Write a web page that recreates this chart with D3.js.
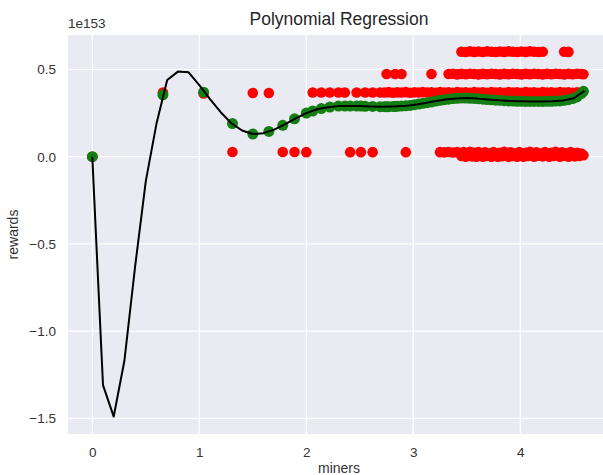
<!DOCTYPE html>
<html>
<head>
<meta charset="utf-8">
<script src="https://cdn.jsdelivr.net/npm/d3@7"></script>
<style>
  html, body { margin: 0; padding: 0; background: #ffffff; }
  svg { display: block; font-family: "Liberation Sans", Arial, sans-serif; }
</style>
</head>
<body>
<div id="chart"></div>
<script>
// Axis ticks (rewards are in units of 1e153)
const xTicks = [0, 1, 2, 3, 4];
const xTickLabels = ["0", "1", "2", "3", "4"];
const yTicks = [0.5, 0.0, -0.5, -1.0, -1.5];
const yTickLabels = ["0.5", "0.0", "\u22120.5", "\u22121.0", "\u22121.5"];

// Fitted polynomial evaluated on a 0.1-step grid of miners
const fitX = [0.0, 0.1, 0.2, 0.3, 0.4, 0.5, 0.6, 0.7, 0.8, 0.9,
              1.0, 1.1, 1.2, 1.3, 1.4, 1.5, 1.6, 1.7, 1.8, 1.9,
              2.0, 2.1, 2.2, 2.3, 2.4, 2.5, 2.6, 2.7, 2.8, 2.9,
              3.0, 3.1, 3.2, 3.3, 3.4, 3.5, 3.6, 3.7, 3.8, 3.9,
              4.0, 4.1, 4.2, 4.3, 4.4, 4.5, 4.6];
const fitY = [0.000, -1.310, -1.490, -1.170, -0.630, -0.140, 0.190, 0.440, 0.488, 0.484,
              0.410, 0.330, 0.255, 0.192, 0.150, 0.130, 0.135, 0.155, 0.185, 0.220,
              0.250, 0.272, 0.284, 0.290, 0.290, 0.290, 0.288, 0.287, 0.288, 0.290,
              0.297, 0.307, 0.318, 0.328, 0.334, 0.336, 0.333, 0.328, 0.323, 0.320,
              0.318, 0.317, 0.317, 0.318, 0.322, 0.335, 0.377];

// Distinct miner values and the model's predicted reward at each
const minerValues = [0.00, 0.66, 1.04, 1.31, 1.50, 1.65, 1.78, 1.89, 2.00, 2.06,
                     2.14, 2.22, 2.30, 2.36, 2.41, 2.47, 2.51, 2.55, 2.62, 2.69,
                     2.73, 2.75, 2.77, 2.81, 2.83, 2.85, 2.89, 2.93, 2.97, 3.01,
                     3.05, 3.09, 3.13, 3.17, 3.21, 3.25, 3.29, 3.33, 3.37, 3.41,
                     3.45, 3.49, 3.53, 3.57, 3.61, 3.65, 3.69, 3.73, 3.77, 3.81,
                     3.85, 3.89, 3.93, 3.97, 4.01, 4.05, 4.09, 4.13, 4.17, 4.21,
                     4.25, 4.29, 4.33, 4.37, 4.41, 4.45, 4.49, 4.53, 4.57, 4.59];
const predictedRewards = [0.000, 0.355, 0.370, 0.190, 0.130, 0.145, 0.180, 0.217, 0.250, 0.262,
                          0.276, 0.285, 0.290, 0.290, 0.290, 0.290, 0.290, 0.289, 0.288, 0.287,
                          0.287, 0.287, 0.287, 0.288, 0.288, 0.289, 0.290, 0.292, 0.294, 0.298,
                          0.302, 0.306, 0.310, 0.314, 0.319, 0.323, 0.327, 0.330, 0.333, 0.335,
                          0.336, 0.336, 0.335, 0.334, 0.332, 0.330, 0.328, 0.326, 0.324, 0.323,
                          0.321, 0.320, 0.319, 0.318, 0.318, 0.317, 0.317, 0.317, 0.317, 0.317,
                          0.318, 0.318, 0.319, 0.320, 0.323, 0.327, 0.333, 0.343, 0.362, 0.375];

// Observed rewards: [miners, reward]
const observed = [
  [0.00, 0.000], [0.66, 0.368], [1.04, 0.362], [1.31, 0.027], [1.50, 0.365],
  [1.65, 0.365], [1.78, 0.027], [1.89, 0.027], [2.00, 0.026],
  [2.06, 0.368], [2.14, 0.368], [2.22, 0.368], [2.30, 0.368], [2.36, 0.368],
  [2.47, 0.368], [2.55, 0.368], [2.62, 0.368], [2.69, 0.368],
  [2.41, 0.026], [2.51, 0.026], [2.62, 0.026], [2.93, 0.026],
  [2.75, 0.474], [2.83, 0.474], [2.89, 0.474], [3.17, 0.474],
  // band near 0.37
  [2.73, 0.368], [2.77, 0.370], [2.81, 0.367], [2.85, 0.369], [2.89, 0.368],
  [2.93, 0.370], [2.97, 0.367], [3.01, 0.369], [3.05, 0.368], [3.09, 0.370],
  [3.13, 0.368], [3.17, 0.369], [3.21, 0.367], [3.25, 0.370], [3.29, 0.368],
  [3.33, 0.369], [3.37, 0.367], [3.41, 0.370], [3.45, 0.368], [3.49, 0.369],
  [3.53, 0.367], [3.57, 0.370], [3.61, 0.368], [3.65, 0.369], [3.69, 0.367],
  [3.73, 0.370], [3.77, 0.368], [3.81, 0.369], [3.85, 0.367], [3.89, 0.370],
  [3.93, 0.368], [3.97, 0.369], [4.01, 0.367], [4.05, 0.370], [4.09, 0.368],
  [4.13, 0.369], [4.17, 0.367], [4.21, 0.370], [4.25, 0.368], [4.29, 0.369],
  [4.33, 0.367], [4.37, 0.370], [4.41, 0.368], [4.45, 0.369], [4.49, 0.367],
  [4.53, 0.369],
  // band near 0.47
  [3.33, 0.474], [3.37, 0.476], [3.41, 0.472], [3.45, 0.475], [3.49, 0.473],
  [3.53, 0.476], [3.57, 0.474], [3.61, 0.472], [3.65, 0.475], [3.69, 0.473],
  [3.73, 0.476], [3.77, 0.474], [3.81, 0.472], [3.85, 0.475], [3.89, 0.473],
  [3.93, 0.476], [3.97, 0.474], [4.01, 0.472], [4.05, 0.475], [4.09, 0.473],
  [4.13, 0.476], [4.17, 0.474], [4.21, 0.472], [4.25, 0.475], [4.29, 0.473],
  [4.33, 0.476], [4.37, 0.474], [4.41, 0.472], [4.45, 0.475], [4.49, 0.473],
  [4.53, 0.476], [4.57, 0.474], [4.59, 0.473],
  // band near 0.60
  [3.45, 0.602], [3.49, 0.600], [3.53, 0.604], [3.57, 0.601], [3.61, 0.603],
  [3.65, 0.600], [3.69, 0.604], [3.73, 0.602], [3.77, 0.600], [3.81, 0.603],
  [3.85, 0.601], [3.89, 0.604], [3.93, 0.602], [3.97, 0.600], [4.01, 0.603],
  [4.05, 0.601], [4.09, 0.604], [4.13, 0.602], [4.17, 0.600], [4.21, 0.602],
  [4.41, 0.602], [4.45, 0.601],
  // band near zero
  [3.25, 0.026], [3.29, 0.025], [3.33, 0.027], [3.37, 0.024], [3.41, 0.026],
  [3.45, 0.004], [3.47, 0.027], [3.49, 0.000], [3.51, 0.018], [3.53, 0.028],
  [3.55, 0.002], [3.57, 0.022], [3.59, 0.000], [3.61, 0.027], [3.63, 0.010],
  [3.65, 0.000], [3.67, 0.025], [3.69, 0.005], [3.71, 0.018], [3.73, 0.000],
  [3.75, 0.027], [3.77, 0.008], [3.79, 0.000], [3.81, 0.022], [3.83, 0.003],
  [3.85, 0.028], [3.87, 0.012], [3.89, 0.000], [3.91, 0.025], [3.93, 0.004],
  [3.95, 0.018], [3.97, 0.000], [3.99, 0.027], [4.01, 0.010], [4.03, 0.000],
  [4.05, 0.022], [4.07, 0.004], [4.09, 0.028], [4.11, 0.012], [4.13, 0.000],
  [4.15, 0.025], [4.17, 0.006], [4.19, 0.018], [4.21, 0.002], [4.23, 0.027],
  [4.25, 0.010], [4.27, 0.000], [4.29, 0.022], [4.31, 0.004], [4.33, 0.028],
  [4.35, 0.012], [4.37, 0.000], [4.39, 0.025], [4.41, 0.006], [4.43, 0.018],
  [4.45, 0.000], [4.47, 0.027], [4.49, 0.010], [4.51, 0.002], [4.53, 0.022],
  [4.55, 0.004], [4.57, 0.018], [4.59, 0.008]
];

const W = 603, H = 475;
const plot = { left: 68, right: 610, top: 35, bottom: 434 };

const x = d3.scaleLinear().domain([-0.2271, 4.8383]).range([plot.left, plot.right]);
const y = d3.scaleLinear().domain([-1.590, 0.6978]).range([plot.bottom, plot.top]);

const svg = d3.select("#chart").append("svg")
  .attr("width", W).attr("height", H)
  .attr("viewBox", `0 0 ${W} ${H}`);

svg.append("rect").attr("width", W).attr("height", H).attr("fill", "#ffffff");

svg.append("defs").append("clipPath").attr("id", "plot-clip")
  .append("rect")
  .attr("x", plot.left).attr("y", plot.top)
  .attr("width", plot.right - plot.left).attr("height", plot.bottom - plot.top);

// Axes background
svg.append("rect")
  .attr("x", plot.left).attr("y", plot.top)
  .attr("width", plot.right - plot.left).attr("height", plot.bottom - plot.top)
  .attr("fill", "#eaeaf2");

// Grid lines
const grid = svg.append("g").attr("clip-path", "url(#plot-clip)");
grid.selectAll("line.vx").data(xTicks).join("line")
  .attr("x1", d => x(d)).attr("x2", d => x(d))
  .attr("y1", plot.top).attr("y2", plot.bottom)
  .attr("stroke", "#ffffff").attr("stroke-width", 1.2);
grid.selectAll("line.hy").data(yTicks).join("line")
  .attr("y1", d => y(d)).attr("y2", d => y(d))
  .attr("x1", plot.left).attr("x2", plot.right)
  .attr("stroke", "#ffffff").attr("stroke-width", 1.2);

// Tick labels via d3 axes (no tick marks, no domain line)
const xAxis = d3.axisBottom(x).tickValues(xTicks)
  .tickFormat((d, i) => xTickLabels[i]).tickSize(0).tickPadding(13);
const gx = svg.append("g").attr("transform", `translate(0,${plot.bottom})`).call(xAxis);
gx.select(".domain").remove();
gx.selectAll("text").attr("font-size", 13.5).attr("fill", "#333333")
  .attr("font-family", "Liberation Sans, Arial, sans-serif");

const yAxis = d3.axisLeft(y).tickValues(yTicks)
  .tickFormat((d, i) => yTickLabels[i]).tickSize(0).tickPadding(12);
const gy = svg.append("g").attr("transform", `translate(${plot.left},0)`).call(yAxis);
gy.select(".domain").remove();
gy.selectAll("text").attr("font-size", 13.5).attr("fill", "#333333")
  .attr("font-family", "Liberation Sans, Arial, sans-serif");

// Marks
const marks = svg.append("g").attr("clip-path", "url(#plot-clip)");

marks.append("g").selectAll("circle").data(observed).join("circle")
  .attr("cx", d => x(d[0])).attr("cy", d => y(d[1])).attr("r", 5.3)
  .attr("fill", "#ff0000");

marks.append("g").selectAll("circle").data(minerValues).join("circle")
  .attr("cx", d => x(d)).attr("cy", (d, i) => y(predictedRewards[i])).attr("r", 5.5)
  .attr("fill", "#137f13");

const fitLine = d3.line().x(d => x(d[0])).y(d => y(d[1]));
marks.append("path")
  .datum(fitX.map((v, i) => [v, fitY[i]]))
  .attr("d", fitLine)
  .attr("fill", "none").attr("stroke", "#000000").attr("stroke-width", 2)
  .attr("stroke-linejoin", "round");

// Titles and labels
svg.append("text").attr("x", (plot.left + plot.right) / 2).attr("y", 25)
  .attr("text-anchor", "middle").attr("font-size", 17.5).attr("fill", "#262626")
  .text("Polynomial Regression");

svg.append("text").attr("x", plot.left).attr("y", 28)
  .attr("font-size", 13.5).attr("fill", "#333333")
  .text("1e153");

svg.append("text").attr("x", (plot.left + plot.right) / 2).attr("y", 473)
  .attr("text-anchor", "middle").attr("font-size", 14).attr("fill", "#333333")
  .text("miners");

svg.append("text")
  .attr("transform", `translate(18,${(plot.top + plot.bottom) / 2}) rotate(-90)`)
  .attr("text-anchor", "middle").attr("font-size", 14).attr("fill", "#333333")
  .text("rewards");
</script>
</body>
</html>
